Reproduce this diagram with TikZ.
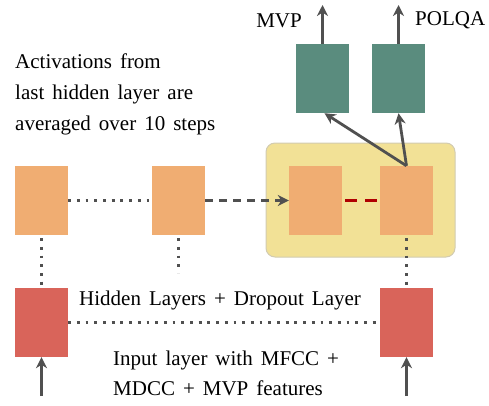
\documentclass[tikz,border=0pt]{standalone}
\usepackage{fontspec}
\setmainfont{Liberation Serif}
\usetikzlibrary{arrows.meta}
\definecolor{orng}{HTML}{F0AD72}
\definecolor{redb}{HTML}{D9645A}
\definecolor{grn}{HTML}{5A8C7E}
\definecolor{yel}{HTML}{F2E196}
\definecolor{yedge}{HTML}{D2CBB0}
\definecolor{dg}{HTML}{505050}
\definecolor{dred}{HTML}{B00000}
\newcommand\lblfont{\fontsize{21}{31}\selectfont\spaceskip=8pt\relax}
\tikzset{
  blk/.style={minimum width=53pt,minimum height=69pt,inner sep=0pt,draw=none},
  ob/.style={blk,fill=orng},
  rb/.style={blk,fill=redb},
  gb/.style={blk,fill=grn},
  dotl/.style={draw=dg,line width=2.8pt,dash pattern=on 2.8pt off 5.9pt},
  dashl/.style={draw=dg,line width=2.8pt,dash pattern=on 8pt off 6pt},
  tipa/.style={-{Stealth[length=11pt,width=11pt,inset=3.5pt]}},
  arr/.style={draw=dg,line width=2.8pt,tipa},
  lbl/.style={font=\lblfont,inner sep=0pt,anchor=base west}
}
\begin{document}
\begin{tikzpicture}[x=1pt,y=-1pt]
\useasboundingbox (0,0) rectangle (489,405);
\node[draw=yedge,fill=yel,line width=1pt,rounded corners=9pt,minimum width=189pt,minimum height=114pt,inner sep=0pt] (grp) at (360.5,200) {};
\node[ob] (h1) at (41.5,200.5) {};
\node[ob] (h2) at (178.5,200.5) {};
\node[ob] (h3) at (315.5,200.5) {};
\node[ob] (h4) at (406.5,200.5) {};
\node[rb] (i1) at (41.5,322.5) {};
\node[rb] (i2) at (406.5,322.5) {};
\node[gb] (o1) at (322.5,78.5) {};
\node[gb] (o2) at (398.5,78.5) {};
\coordinate (t1) at (322.5,5);
\coordinate (t2) at (398.5,5);
\coordinate (b1) at (41.5,396);
\coordinate (b2) at (406.5,396);
\coordinate (h2end) at (178.5,273);
\node[lbl,anchor=base east] (mvp) at (302,27) {MVP};
\node[lbl] (polqa) at (415,25) {POLQA};
\node[lbl] (act1) at (15,68) {Activations from};
\node[lbl] (act2) at (15,99) {last hidden layer are};
\node[lbl] (act3) at (15,130) {averaged over 10 steps};
\node[lbl] (hid) at (79,305) {Hidden Layers + Dropout Layer};
\node[lbl] (inp1) at (113,365) {Input layer with MFCC +};
\node[lbl] (inp2) at (113,395) {MDCC + MVP features};
% connectors
\draw[dotl] (h1.east) -- (h2.west);
\draw[dashl,tipa] (h2.east) -- (h3.west);
\draw[draw=dred,line width=2.8pt,dash pattern=on 12pt off 8pt,dash phase=17pt] (h3.east) -- (h4.west);
\draw[dotl] ([yshift=-3pt]h1.south) -- ([yshift=3pt]i1.north);
\draw[dotl] ([yshift=-3pt]h2.south) -- (h2end);
\draw[dotl] ([yshift=-3pt]h4.south) -- ([yshift=3pt]i2.north);
\draw[dotl] (i1.east) -- (i2.west);
\draw[arr] (h4.north) -- ([xshift=2pt]o1.south);
\draw[arr] (h4.north) -- (o2.south);
\draw[arr] (o1.north) -- (t1);
\draw[arr] (o2.north) -- (t2);
\draw[arr] (b1) -- (i1.south);
\draw[arr] (b2) -- (i2.south);
\end{tikzpicture}
\end{document}
